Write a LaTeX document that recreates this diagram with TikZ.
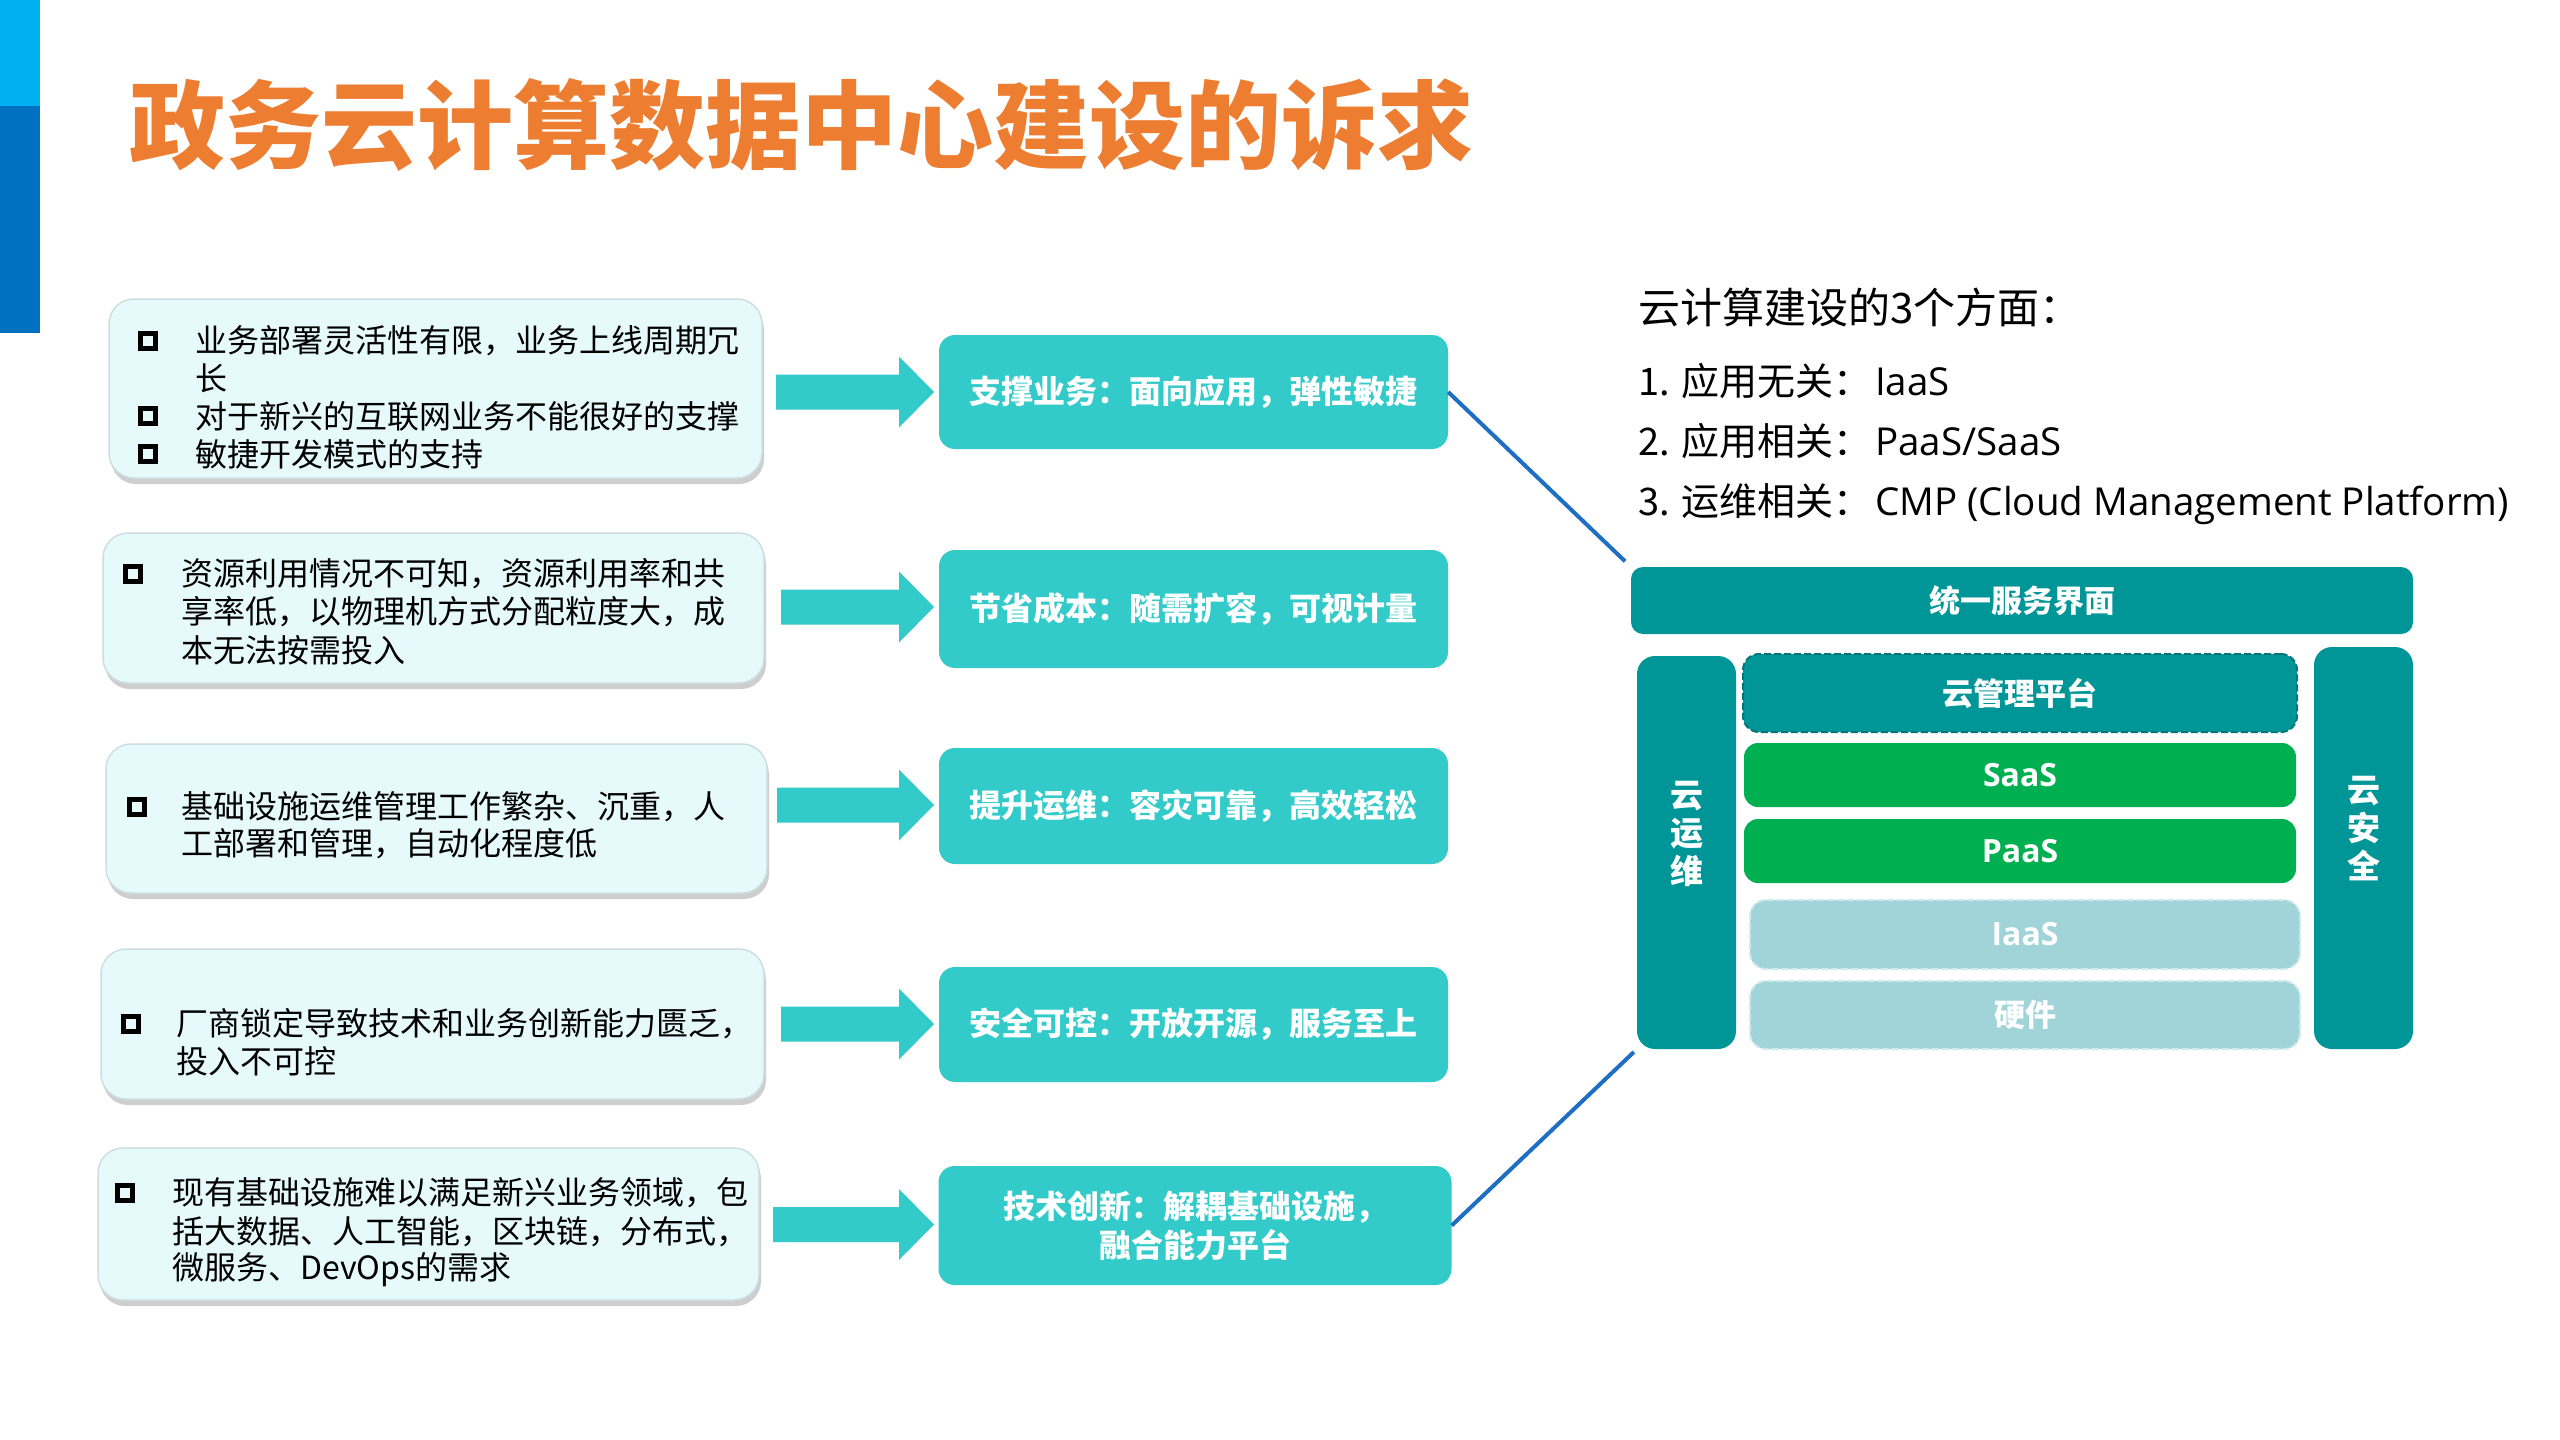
\documentclass[tikz,border=0pt]{standalone}
\usepackage{fontspec}
\setmainfont{Noto Sans CJK SC}
\newfontfamily\latinf{Open Sans}
\usetikzlibrary{shadows}
\definecolor{lblue}{RGB}{0,176,240}
\definecolor{dblue}{RGB}{0,112,192}
\definecolor{titleor}{RGB}{237,125,49}
\definecolor{tealc}{RGB}{51,202,202}
\definecolor{dteal}{RGB}{0,150,152}
\definecolor{dtealline}{RGB}{0,118,120}
\definecolor{greenc}{RGB}{0,176,80}
\definecolor{lteal}{RGB}{160,212,216}
\definecolor{ltealline}{RGB}{205,235,238}
\definecolor{linec}{RGB}{30,110,195}
\definecolor{lboxfill}{RGB}{230,250,252}
\definecolor{lboxline}{RGB}{205,222,226}
\newcommand{\bigarrow}[3]{%
  \fill[tealc] (#1,#3-17.5) -- (#2-35,#3-17.5) -- (#2-35,#3-35.5) -- (#2,#3)
    -- (#2-35,#3+35.5) -- (#2-35,#3+17.5) -- (#1,#3+17.5) -- cycle;}
\begin{document}
\begin{tikzpicture}[x=1pt,y=-1pt,
  lbox/.style={draw=lboxline, line width=1.5pt, fill=lboxfill, rounded corners=25pt,
    inner sep=0pt, drop shadow={shadow xshift=2pt, shadow yshift=-6pt, opacity=0.35, fill=black!55}},
  tbox/.style={fill=tealc, rounded corners=16pt, inner sep=0pt, text=white,
    font=\bfseries\fontsize{32}{39}\selectfont, align=center, minimum width=509pt},
  ltxt/.style={anchor=west, inner sep=0pt, font=\fontsize{32}{38}\selectfont},
  bul/.style={draw=black, line width=5.5pt, minimum size=15pt, inner sep=0pt},
  rtxt/.style={anchor=west, inner sep=0pt, font=\fontsize{38}{44}\selectfont},
  rlat/.style={anchor=base west, inner sep=0pt, font=\latinf\fontsize{38.5}{44}\selectfont},
  conn/.style={draw=linec, line width=4pt},
  stk/.style={inner sep=0pt, text=white, font=\bfseries\fontsize{31}{38}\selectfont, align=center},
  vtxt/.style={inner sep=0pt, text=white, font=\bfseries\fontsize{33}{38}\selectfont, align=center},
  slat/.style={inner sep=0pt, text=white, font=\latinf\bfseries\fontsize{32}{36}\selectfont}
]
\path[use as bounding box, fill=white] (0,0) rectangle (2560,1440);
% left accent bar
\fill[lblue] (0,0) rectangle (40,106);
\fill[dblue] (0,106) rectangle (40,333);
% title
\node[anchor=west, inner sep=0pt, text=titleor, font=\bfseries\fontsize{96}{100}\selectfont] (title) at (129,125) {政务云计算数据中心建设的诉求};

% left boxes
\node[lbox, minimum width=653pt, minimum height=179pt] (lb1) at (435.5,388.5) {};
\node[lbox, minimum width=661pt, minimum height=150pt] (lb2) at (433.5,608) {};
\node[lbox, minimum width=661pt, minimum height=149pt] (lb3) at (436.5,818.5) {};
\node[lbox, minimum width=663pt, minimum height=150pt] (lb4) at (432.5,1024) {};
\node[lbox, minimum width=661pt, minimum height=152pt] (lb5) at (428.5,1224) {};

% box 1 text
\node[bul] (b11) at (148,341) {};
\node[ltxt] (t11) at (195,341) {业务部署灵活性有限，业务上线周期冗};
\node[ltxt] (t12) at (195,378) {长};
\node[bul] (b13) at (148,416) {};
\node[ltxt] (t13) at (195,416) {对于新兴的互联网业务不能很好的支撑};
\node[bul] (b14) at (148,454) {};
\node[ltxt] (t14) at (195,454) {敏捷开发模式的支持};
% box 2 text
\node[bul] (b21) at (133,574) {};
\node[ltxt] (t21) at (181,574) {资源利用情况不可知，资源利用率和共};
\node[ltxt] (t22) at (181,612) {享率低，以物理机方式分配粒度大，成};
\node[ltxt] (t23) at (181,650) {本无法按需投入};
% box 3 text
\node[bul] (b31) at (137,807) {};
\node[ltxt] (t31) at (181,807) {基础设施运维管理工作繁杂、沉重，人};
\node[ltxt] (t32) at (181,844) {工部署和管理，自动化程度低};
% box 4 text
\node[bul] (b41) at (131,1024) {};
\node[ltxt] (t41) at (176,1024) {厂商锁定导致技术和业务创新能力匮乏，};
\node[ltxt] (t42) at (176,1061) {投入不可控};
% box 5 text
\node[bul] (b51) at (125,1193) {};
\node[ltxt] (t51) at (172,1193) {现有基础设施难以满足新兴业务领域，包};
\node[ltxt] (t52) at (172,1232) {括大数据、人工智能，区块链，分布式，};
\node[ltxt] (t53) at (172,1270) {微服务、DevOps的需求};

% block arrows
\bigarrow{776}{934}{392}
\bigarrow{781}{934}{607}
\bigarrow{777}{934}{805}
\bigarrow{781}{934}{1024}
\bigarrow{773}{934}{1224.5}

% teal boxes
\node[tbox, minimum height=114pt] (tb1) at (1193.5,392) {支撑业务：面向应用，弹性敏捷};
\node[tbox, minimum height=118pt] (tb2) at (1193.5,609) {节省成本：随需扩容，可视计量};
\node[tbox, minimum height=116pt] (tb3) at (1193.5,806) {提升运维：容灾可靠，高效轻松};
\node[tbox, minimum height=115pt] (tb4) at (1193.5,1024.5) {安全可控：开放开源，服务至上};
\node[tbox, minimum height=119pt, minimum width=513pt] (tb5) at (1195,1225.5) {技术创新：解耦基础设施，\\融合能力平台};

% right text
\coordinate (xl) at (1875,0);
\node[anchor=west, inner sep=0pt, font=\fontsize{42}{46}\selectfont] (rhead) at (1638,307) {云计算建设的3个方面：};
\node[rtxt] (r1) at (1638,381) {1. 应用无关：};
\node[rlat] (r1b) at (r1.base -| xl) {IaaS};
\node[rtxt] (r2) at (1638,441) {2. 应用相关：};
\node[rlat] (r2b) at (r2.base -| xl) {PaaS/SaaS};
\node[rtxt] (r3) at (1638,501) {3. 运维相关：};
\node[rlat] (r3b) at (r3.base -| xl) {CMP (Cloud Management Platform)};

% stack diagram
\node[fill=dteal, rounded corners=12pt, minimum width=782pt, minimum height=67pt, stk] (uni) at (2022,600.5) {统一服务界面};
\node[fill=dteal, rounded corners=18pt, minimum width=99pt, minimum height=393pt] (ops) at (1686.5,852.5) {};
\node[vtxt] (opsl) at (1687,834) {云\\运\\维};
\node[fill=dteal, rounded corners=18pt, minimum width=99pt, minimum height=402pt] (sec) at (2363.5,848) {};
\node[vtxt] (secl) at (2364,829) {云\\安\\全};
\node[fill=dteal, draw=dtealline, line width=2pt, dash pattern=on 7pt off 3pt, rounded corners=16pt, minimum width=554pt, minimum height=78pt, stk] (cmp) at (2020,693) {云管理平台};
\node[fill=greenc, rounded corners=14pt, minimum width=552pt, minimum height=64pt, slat] (saas) at (2020,775) {SaaS};
\node[fill=greenc, rounded corners=14pt, minimum width=552pt, minimum height=64pt, slat] (paas) at (2020,851) {PaaS};
\node[fill=lteal, draw=ltealline, line width=2pt, dash pattern=on 7pt off 3pt, rounded corners=16pt, minimum width=550pt, minimum height=69pt, slat] (iaas) at (2025,934.5) {IaaS};
\node[fill=lteal, draw=ltealline, line width=2pt, dash pattern=on 7pt off 3pt, rounded corners=16pt, minimum width=550pt, minimum height=68pt, stk] (hw) at (2025,1015) {硬件};

% connectors
\draw[conn, shorten >=8pt] (tb1.east) -- (uni.north west);
\draw[conn, shorten >=4pt] (tb5.east) -- (ops.south west);
\end{tikzpicture}
\end{document}
